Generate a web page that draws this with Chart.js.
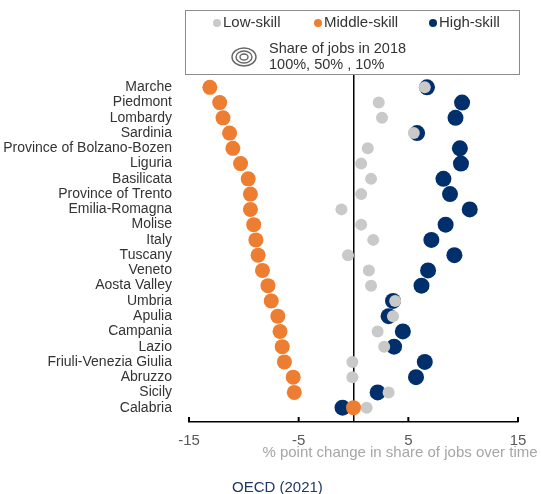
<!DOCTYPE html>
<html>
<head>
<meta charset="utf-8">
<script src="https://cdn.jsdelivr.net/npm/chart.js@4.4.1/dist/chart.umd.min.js"></script>
<style>
  body { margin: 0; background: #fff; }
  #wrap { width: 541px; height: 494px; position: relative; }
</style>
</head>
<body>
<div id="wrap"><canvas id="chart"></canvas></div>
<script>
const regions = [
  "Marche", "Piedmont", "Lombardy", "Sardinia", "Province of Bolzano-Bozen",
  "Liguria", "Basilicata", "Province of Trento", "Emilia-Romagna", "Molise",
  "Italy", "Tuscany", "Veneto", "Aosta Valley", "Umbria", "Apulia",
  "Campania", "Lazio", "Friuli-Venezia Giulia", "Abruzzo", "Sicily", "Calabria",
];
const lowSkill = [6.5, 2.3, 2.6, 5.5, 1.3, 0.7, 1.6, 0.7, -1.1, 0.7, 1.8, -0.5, 1.4, 1.6, 3.8, 3.6, 2.2, 2.8, -0.1, -0.1, 3.2, 1.2];
const middleSkill = [-13.1, -12.2, -11.9, -11.3, -11.0, -10.3, -9.6, -9.4, -9.4, -9.1, -8.9, -8.7, -8.3, -7.8, -7.5, -6.9, -6.7, -6.5, -6.3, -5.5, -5.4, 0.0];
const highSkill = [6.7, 9.9, 9.3, 5.8, 9.7, 9.8, 8.2, 8.8, 10.6, 8.4, 7.1, 9.2, 6.8, 6.2, 3.6, 3.2, 4.5, 3.7, 6.5, 5.7, 2.2, -1.0];
const xTicks = [-15, -5, 0, 5, 15];
const axisTitle = "% point change in share of jobs over time";
const sourceNote = "OECD (2021)";

const FONT = "'Liberation Sans', Arial, sans-serif";
const toPoints = (values) => values.map((v, i) => ({ x: v, y: i }));

// Legend box with the three series and the bubble-size key
const legendBoxPlugin = {
  id: "legendBoxPlugin",
  afterDraw(chart) {
    const { ctx } = chart;
    ctx.save();
    ctx.strokeStyle = "#8c8c8c";
    ctx.lineWidth = 1;
    ctx.strokeRect(185.5, 10.5, 334, 64);

    // datasets are Middle, Low, High (first one ends up on top)
    const items = [
      { ds: 1, x: 217 },
      { ds: 0, x: 318 },
      { ds: 2, x: 433 },
    ];
    ctx.textBaseline = "middle";
    ctx.textAlign = "left";
    ctx.font = `15px ${FONT}`;
    items.forEach((item) => {
      const ds = chart.data.datasets[item.ds];
      ctx.fillStyle = ds.backgroundColor;
      ctx.beginPath();
      ctx.arc(item.x, 23, 4, 0, Math.PI * 2);
      ctx.fill();
      ctx.fillStyle = "#333";
      ctx.fillText(ds.label, item.x + 6, 23);
    });

    // concentric rings
    ctx.strokeStyle = "#666";
    ctx.lineWidth = 1.4;
    [[12, 9], [8, 6], [4, 3]].forEach(([rx, ry]) => {
      ctx.beginPath();
      ctx.ellipse(244, 57, rx, ry, 0, 0, Math.PI * 2);
      ctx.stroke();
    });
    ctx.fillStyle = "#333";
    ctx.font = `14.5px ${FONT}`;
    ctx.fillText("Share of jobs in 2018", 269, 49);
    ctx.fillText("100%, 50% , 10%", 269, 65);
    ctx.restore();
  },
};

// Inward tick marks, axis title and source note
const axisExtrasPlugin = {
  id: "axisExtrasPlugin",
  afterDraw(chart) {
    const { ctx, chartArea } = chart;
    const xScale = chart.scales.x;
    ctx.save();
    ctx.strokeStyle = "#000";
    ctx.lineWidth = 2;
    xTicks.filter((v) => v !== 0).forEach((v) => {
      const px = xScale.getPixelForValue(v);
      ctx.beginPath();
      ctx.moveTo(px, chartArea.bottom);
      ctx.lineTo(px, chartArea.bottom - 5);
      ctx.stroke();
    });

    ctx.textBaseline = "middle";
    ctx.textAlign = "center";
    ctx.fillStyle = "#a6a6a6";
    ctx.font = `15px ${FONT}`;
    ctx.fillText(axisTitle, chartArea.right - 118, chartArea.bottom + 31);

    ctx.textAlign = "left";
    ctx.fillStyle = "#1f3864";
    ctx.fillText(sourceNote, 232, chartArea.bottom + 66);
    ctx.restore();
  },
};

const ctx = document.getElementById("chart").getContext("2d");
new Chart(ctx, {
  type: "scatter",
  data: {
    datasets: [
      {
        label: "Middle-skill",
        data: toPoints(middleSkill),
        backgroundColor: "#ed7d31",
        pointRadius: 7.5,
        pointBorderWidth: 0,
      },
      {
        label: "Low-skill",
        data: toPoints(lowSkill),
        backgroundColor: "#c9c9c9",
        pointRadius: 6,
        pointBorderWidth: 0,
      },
      {
        label: "High-skill",
        data: toPoints(highSkill),
        backgroundColor: "#002f6c",
        pointRadius: 8,
        pointBorderWidth: 0,
      },
    ],
  },
  plugins: [legendBoxPlugin, axisExtrasPlugin],
  options: {
    responsive: true,
    maintainAspectRatio: false,
    animation: false,
    events: [],
    layout: {
      padding: { top: 75, right: 23, bottom: 0, left: 0 },
    },
    plugins: {
      legend: { display: false },
      tooltip: { enabled: false },
    },
    scales: {
      x: {
        type: "linear",
        min: -15,
        max: 15,
        afterBuildTicks(scale) {
          scale.ticks = xTicks.map((v) => ({ value: v }));
        },
        afterFit(scale) {
          scale.height = 72;
        },
        ticks: {
          color: "#595959",
          font: { family: FONT, size: 15 },
          padding: 10,
          callback: (v) => (v === 0 ? "" : String(v)),
        },
        grid: {
          drawTicks: false,
          lineWidth: 1.5,
          color: (c) => (c.tick && c.tick.value === 0 ? "#000" : "rgba(0,0,0,0)"),
        },
        border: { display: true, color: "#000", width: 1.5 },
      },
      y: {
        type: "linear",
        reverse: true,
        min: -0.81,
        max: 21.94,
        afterBuildTicks(scale) {
          scale.ticks = regions.map((_, i) => ({ value: i }));
        },
        afterFit(scale) {
          scale.width = 189;
        },
        ticks: {
          color: "#333",
          font: { family: FONT, size: 14 },
          padding: 9,
          autoSkip: false,
          callback: (v) => regions[v] ?? "",
        },
        grid: { display: false },
        border: { display: false },
      },
    },
  },
});
</script>
</body>
</html>
